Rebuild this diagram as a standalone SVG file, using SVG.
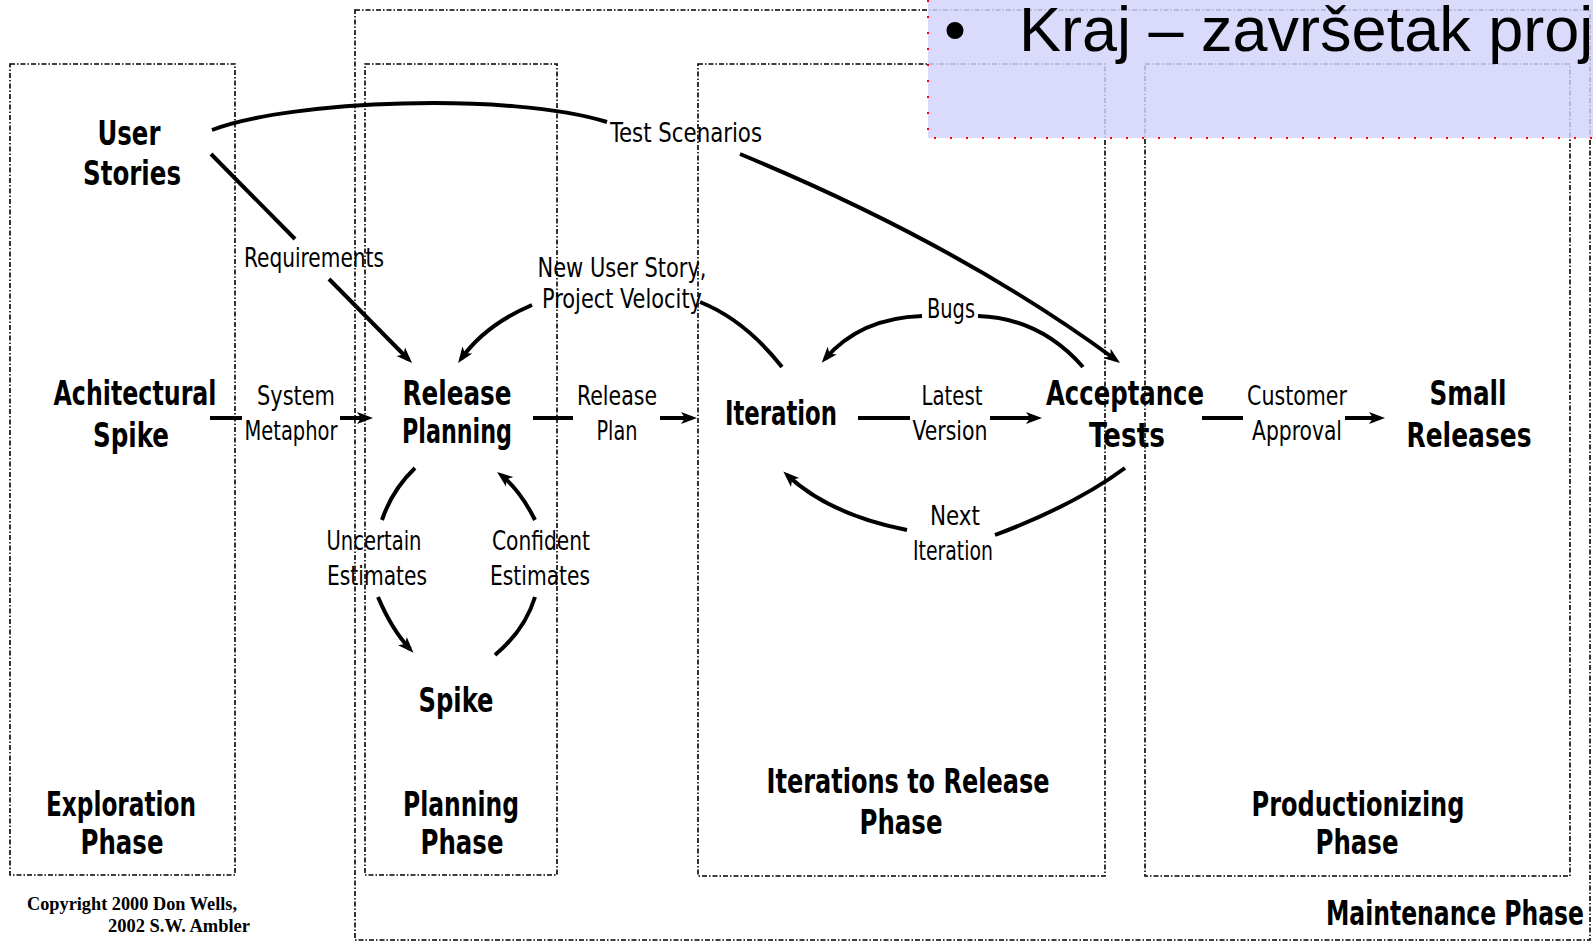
<svg xmlns="http://www.w3.org/2000/svg" width="1593" height="945" viewBox="0 0 1593 945">
<style>
.box{fill:none;stroke:#000;stroke-width:1.6;stroke-dasharray:5 2 1.5 2}
.b{font-family:"Liberation Sans Narrow","DejaVu Sans Condensed","Liberation Sans",sans-serif;font-weight:bold;font-size:33px;text-anchor:middle;fill:#000}
.l{font-family:"Liberation Sans Narrow","DejaVu Sans Condensed","Liberation Sans",sans-serif;font-size:27px;text-anchor:middle;fill:#000}
.cp{font-family:"Liberation Serif",serif;font-weight:bold;font-size:18px;fill:#000}
.c{fill:none;stroke:#000;stroke-width:4;stroke-linecap:butt}
.ca{marker-end:url(#ah)}
</style>
<defs>
<marker id="ah" markerUnits="userSpaceOnUse" markerWidth="18" markerHeight="14" refX="11" refY="7" orient="auto">
<path d="M0,1 L16,7 L0,13 L4,7 Z" fill="#000"/>
</marker>
</defs>
<rect width="1593" height="945" fill="#fff"/>

<g id="phases">
<rect id="maintenance-box" class="box" x="355" y="10" width="1235" height="930"/>
<rect id="exploration-box" class="box" x="10" y="64" width="225" height="811"/>
<rect id="planning-box" class="box" x="365" y="64" width="192" height="811"/>
<rect id="iterations-box" class="box" x="698" y="64" width="407" height="812"/>
<rect id="productionizing-box" class="box" x="1145" y="64" width="425" height="812"/>
</g>

<g id="connectors">
<path class="c" d="M 212 130 C 290 100 510 92 607 122"/>
<path class="c ca" d="M 740 154 Q 960 245 1116 360"/>
<path class="c" d="M 211 154 L 295 239"/>
<path class="c ca" d="M 329 279 L 408.5 359.5"/>
<path class="c" d="M 782 367 Q 745 320 700 302"/>
<path class="c ca" d="M 532 305 Q 485 325 461 359"/>
<path class="c" d="M 210 418 L 242 418"/>
<path class="c ca" d="M 340 418 L 368 418"/>
<path class="c" d="M 533 418 L 573 418"/>
<path class="c ca" d="M 660 418 L 692 418"/>
<path class="c" d="M 858 418 L 910 418"/>
<path class="c ca" d="M 990 418 L 1037 418"/>
<path class="c" d="M 1202 418 L 1243 418"/>
<path class="c ca" d="M 1345 418 L 1380 418"/>
<path class="c" d="M 1083 367 Q 1040 318 978 316"/>
<path class="c ca" d="M 922 316 Q 860 318 825 359"/>
<path class="c" d="M 1125 468 Q 1075 505 995 535"/>
<path class="c ca" d="M 907 530 Q 830 515 787 475"/>
<path class="c" d="M 415 468 Q 392 490 382 520"/>
<path class="c ca" d="M 378 597 Q 392 630 410 649"/>
<path class="c" d="M 495 655 Q 525 630 535 597"/>
<path class="c ca" d="M 535 520 Q 520 490 501 475"/>
</g>

<g id="connector-labels">
<text class="l" x="686" y="142" textLength="152" lengthAdjust="spacingAndGlyphs">Test Scenarios</text>
<text class="l" x="314" y="267" textLength="140" lengthAdjust="spacingAndGlyphs">Requirements</text>
<text class="l" x="622" y="277" textLength="169" lengthAdjust="spacingAndGlyphs">New User Story,</text>
<text class="l" x="622" y="308" textLength="160" lengthAdjust="spacingAndGlyphs">Project Velocity</text>
<text class="l" x="296" y="405" textLength="78" lengthAdjust="spacingAndGlyphs">System</text>
<text class="l" x="291" y="440" textLength="93" lengthAdjust="spacingAndGlyphs">Metaphor</text>
<text class="l" x="617" y="405" textLength="80" lengthAdjust="spacingAndGlyphs">Release</text>
<text class="l" x="617" y="440" textLength="41" lengthAdjust="spacingAndGlyphs">Plan</text>
<text class="l" x="951" y="318" textLength="48" lengthAdjust="spacingAndGlyphs">Bugs</text>
<text class="l" x="952" y="405" textLength="61" lengthAdjust="spacingAndGlyphs">Latest</text>
<text class="l" x="950" y="440" textLength="75" lengthAdjust="spacingAndGlyphs">Version</text>
<text class="l" x="1297" y="405" textLength="100" lengthAdjust="spacingAndGlyphs">Customer</text>
<text class="l" x="1297" y="440" textLength="90" lengthAdjust="spacingAndGlyphs">Approval</text>
<text class="l" x="374" y="550" textLength="95" lengthAdjust="spacingAndGlyphs">Uncertain</text>
<text class="l" x="377" y="585" textLength="100" lengthAdjust="spacingAndGlyphs">Estimates</text>
<text class="l" x="541" y="550" textLength="98" lengthAdjust="spacingAndGlyphs">Confident</text>
<text class="l" x="540" y="585" textLength="100" lengthAdjust="spacingAndGlyphs">Estimates</text>
<text class="l" x="955" y="525" textLength="50" lengthAdjust="spacingAndGlyphs">Next</text>
<text class="l" x="953" y="560" textLength="80" lengthAdjust="spacingAndGlyphs">Iteration</text>
</g>

<g id="user-stories">
<text class="b" x="129" y="145" textLength="63" lengthAdjust="spacingAndGlyphs">User</text>
<text class="b" x="132" y="185" textLength="98" lengthAdjust="spacingAndGlyphs">Stories</text>
</g>
<g id="architectural-spike">
<text class="b" x="135" y="405" textLength="163" lengthAdjust="spacingAndGlyphs">Achitectural</text>
<text class="b" x="131" y="447" textLength="76" lengthAdjust="spacingAndGlyphs">Spike</text>
</g>
<g id="release-planning">
<text class="b" x="457" y="405" textLength="109" lengthAdjust="spacingAndGlyphs">Release</text>
<text class="b" x="457" y="443" textLength="110" lengthAdjust="spacingAndGlyphs">Planning</text>
</g>
<g id="iteration">
<text class="b" x="781" y="425" textLength="112" lengthAdjust="spacingAndGlyphs">Iteration</text>
</g>
<g id="acceptance-tests">
<text class="b" x="1125" y="405" textLength="158" lengthAdjust="spacingAndGlyphs">Acceptance</text>
<text class="b" x="1127" y="447" textLength="76" lengthAdjust="spacingAndGlyphs">Tests</text>
</g>
<g id="small-releases">
<text class="b" x="1468" y="405" textLength="77" lengthAdjust="spacingAndGlyphs">Small</text>
<text class="b" x="1469" y="447" textLength="125" lengthAdjust="spacingAndGlyphs">Releases</text>
</g>
<g id="spike">
<text class="b" x="456" y="712" textLength="75" lengthAdjust="spacingAndGlyphs">Spike</text>
</g>

<g id="phase-labels">
<text class="b" x="121" y="816" textLength="150" lengthAdjust="spacingAndGlyphs">Exploration</text>
<text class="b" x="122" y="854" textLength="83" lengthAdjust="spacingAndGlyphs">Phase</text>
<text class="b" x="461" y="816" textLength="116" lengthAdjust="spacingAndGlyphs">Planning</text>
<text class="b" x="462" y="854" textLength="83" lengthAdjust="spacingAndGlyphs">Phase</text>
<text class="b" x="908" y="793" textLength="283" lengthAdjust="spacingAndGlyphs">Iterations to Release</text>
<text class="b" x="901" y="834" textLength="83" lengthAdjust="spacingAndGlyphs">Phase</text>
<text class="b" x="1358" y="816" textLength="213" lengthAdjust="spacingAndGlyphs">Productionizing</text>
<text class="b" x="1357" y="854" textLength="83" lengthAdjust="spacingAndGlyphs">Phase</text>
<text class="b" x="1455" y="925" textLength="258" lengthAdjust="spacingAndGlyphs">Maintenance Phase</text>
</g>

<g id="copyright">
<text class="cp" x="27" y="910" textLength="210" lengthAdjust="spacingAndGlyphs">Copyright 2000 Don Wells,</text>
<text class="cp" x="108" y="932" textLength="142" lengthAdjust="spacingAndGlyphs">2002 S.W. Ambler</text>
</g>

<g id="slide-overlay">
<rect x="928" y="0" width="665" height="138" fill="rgb(211,211,249)" fill-opacity="0.83"/>
<path d="M 928 0 L 928 138 L 1593 138" fill="none" stroke="#ff0000" stroke-width="2" stroke-dasharray="2 14"/>
<text x="944" y="51" font-family="'Liberation Sans',Arial,sans-serif" font-size="63" fill="#000">•</text>
<text x="1019" y="51" font-family="'Liberation Sans',Arial,sans-serif" font-size="63" fill="#000">Kraj – završetak proj</text>
</g>
</svg>
